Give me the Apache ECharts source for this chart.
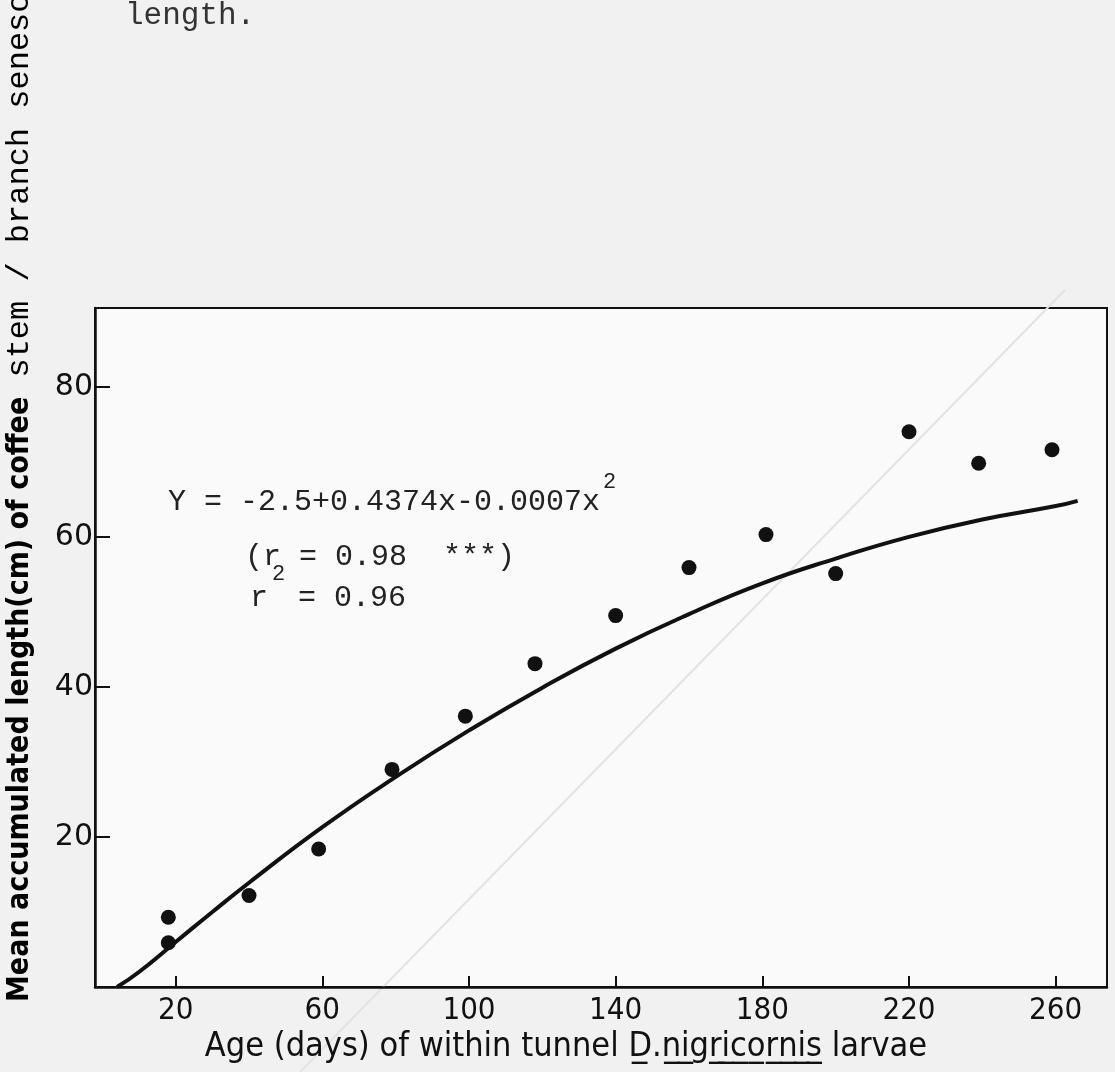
<!DOCTYPE html>
<html>
<head>
<meta charset="utf-8">
<script src="https://cdn.jsdelivr.net/npm/echarts@6/dist/echarts.min.js"></script>
<style>
  html, body { margin: 0; padding: 0; background: #f1f1f1; }
  #chart { width: 1115px; height: 1072px; }
</style>
</head>
<body>
<div id="chart"></div>
<script>
// observed points (age in days, mean accumulated length in cm)
const dotAge = [18, 18, 40, 59, 79, 99, 118, 140, 160, 181, 200, 220, 239, 259];
const dotLen = [9.3, 5.9, 12.2, 18.4, 29.0, 36.1, 43.1, 49.5, 55.9, 60.3, 55.1, 74.0, 69.8, 71.6];

// fitted curve
const curveAge = [4, 10, 20, 30, 40, 60, 80, 100, 120, 140, 160, 180, 200, 220, 240, 260, 266];
const curveLen = [0, 2.0, 6.0, 10.0, 13.9, 21.3, 28.0, 34.2, 39.9, 45.1, 49.7, 53.8, 57.1, 60.0, 62.3, 64.1, 64.8];

const xTicks = [20, 60, 100, 140, 180, 220, 260];
const yTicks = [20, 40, 60, 80];

const chart = echarts.init(document.getElementById('chart'));

const ink = '#111';
const mono = '"Liberation Mono", "DejaVu Sans Mono", monospace';

chart.setOption({
  backgroundColor: '#f1f1f1',
  animation: false,
  grid: {
    left: 95, right: 8, top: 308, bottom: 85,
    show: true, borderColor: ink, borderWidth: 2, backgroundColor: '#fafafa'
  },
  xAxis: {
    type: 'value', min: -2, max: 274,
    splitLine: { show: false },
    axisLine: { onZero: false, lineStyle: { color: ink, width: 2.5 } },
    axisTick: { inside: true, length: 11, customValues: xTicks, lineStyle: { color: ink, width: 2 } },
    axisLabel: {
      customValues: xTicks, margin: 8, color: ink, fontSize: 31,
      fontFamily: '"Liberation Sans Narrow", "DejaVu Sans Condensed", sans-serif'
    }
  },
  yAxis: {
    type: 'value', min: 0, max: 90.5,
    splitLine: { show: false },
    axisLine: { onZero: false, lineStyle: { color: ink, width: 2.5 } },
    axisTick: { inside: true, length: 15, customValues: yTicks, lineStyle: { color: ink, width: 2 } },
    axisLabel: { customValues: yTicks, margin: 2, color: ink, fontSize: 30, fontFamily: '"DejaVu Sans", sans-serif' }
  },
  series: [
    {
      type: 'line',
      data: curveAge.map((a, i) => [a, curveLen[i]]),
      smooth: true, showSymbol: false,
      lineStyle: { color: ink, width: 4 }, z: 2
    },
    {
      type: 'scatter',
      data: dotAge.map((a, i) => [a, dotLen[i]]),
      symbolSize: 15,
      itemStyle: { color: ink, opacity: 1 }, z: 3
    }
  ],
  graphic: [
    // faint show-through line from the scanned page
    { type: 'line', shape: { x1: 300, y1: 1072, x2: 1065, y2: 290 }, style: { stroke: '#e3e3e3', lineWidth: 2 }, z: 0 },
    { type: 'text', left: 125, top: 0, style: { text: 'length.', font: '31px ' + mono, fill: '#333' } },
    { type: 'text', x: 168, y: 502, style: { text: 'Y = -2.5+0.4374x-0.0007x', font: '30px ' + mono, fill: '#222', textVerticalAlign: 'middle' } },
    { type: 'text', x: 603, y: 482, style: { text: '2', font: '22px ' + mono, fill: '#222', textVerticalAlign: 'middle' } },
    { type: 'text', x: 245, y: 557, style: { text: '(r = 0.98  ***)', font: '30px ' + mono, fill: '#222', textVerticalAlign: 'middle' } },
    { type: 'text', x: 250, y: 598, style: { text: 'r', font: '30px ' + mono, fill: '#222', textVerticalAlign: 'middle' } },
    { type: 'text', x: 272, y: 574, style: { text: '2', font: '22px ' + mono, fill: '#222', textVerticalAlign: 'middle' } },
    { type: 'text', x: 298, y: 598, style: { text: '= 0.96', font: '30px ' + mono, fill: '#222', textVerticalAlign: 'middle' } },
    {
      type: 'text', x: 566, y: 1047,
      style: {
        // underlined parts as in the original lettering (break at the g descender)
        text: 'Age (days) of within tunnel D\u0332.n\u0332i\u0332gr\u0332i\u0332c\u0332o\u0332r\u0332n\u0332i\u0332s\u0332 larvae',
        font: '34px "DejaVu Sans Condensed", "Liberation Sans Narrow", sans-serif',
        fill: ink, textAlign: 'center', textVerticalAlign: 'middle'
      }
    },
    {
      type: 'text', x: 20, y: 1002, rotation: Math.PI / 2,
      style: {
        text: '{a|Mean accumulated length(cm) of coffee}{b| stem / branch senesced}',
        textAlign: 'left', textVerticalAlign: 'middle',
        rich: {
          a: { fontSize: 30, fontWeight: 'bold', fontFamily: '"DejaVu Sans Condensed", sans-serif', color: ink },
          b: { fontSize: 32, fontFamily: mono, color: '#333' }
        }
      }
    }
  ]
});
</script>
</body>
</html>
